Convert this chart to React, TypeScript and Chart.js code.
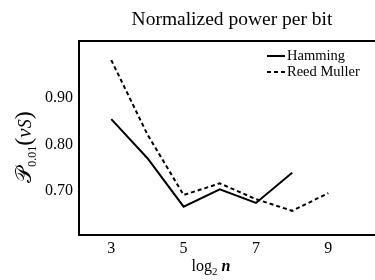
import React, { useEffect, useRef } from "react";
import { Chart, registerables } from "chart.js";

Chart.register(...registerables);

const hammingX = [3, 4, 5, 6, 7, 8];
const hammingY = [0.855, 0.771, 0.667, 0.704, 0.675, 0.74];
const reedMullerX = [3, 4, 5, 6, 7, 8, 9];
const reedMullerY = [0.982, 0.822, 0.692, 0.717, 0.683, 0.658, 0.696];
const xTicks = [3, 5, 7, 9];
const yTicks = [0.7, 0.8, 0.9];
const seriesNames = ["Hamming", "Reed Muller"];
const titleText = "Normalized power per bit";

const SERIF = '"Liberation Serif", "DejaVu Serif", serif';

const textPlugin = {
  id: "customTexts",
  afterDraw(chart: any) {
    const ctx: CanvasRenderingContext2D = chart.ctx;
    const a = chart.chartArea;
    ctx.save();
    ctx.fillStyle = "#000";
    ctx.textBaseline = "alphabetic";

    // Title
    ctx.font = `19.5px ${SERIF}`;
    ctx.textAlign = "center";
    ctx.fillText(titleText, (a.left + a.right) / 2 + 5, 25);

    // Legend
    ctx.textAlign = "left";
    ctx.font = `14.5px ${SERIF}`;
    const lx = a.left + 188;
    const rows = [a.top + 19, a.top + 35];
    chart.data.datasets.forEach((ds: any, i: number) => {
      const y = rows[i];
      ctx.save();
      ctx.strokeStyle = ds.borderColor;
      ctx.lineWidth = ds.borderWidth;
      ctx.setLineDash(ds.borderDash || []);
      ctx.beginPath();
      ctx.moveTo(lx, y - 4);
      ctx.lineTo(lx + 18, y - 4);
      ctx.stroke();
      ctx.restore();
      ctx.fillText(seriesNames[i], lx + 20, y);
    });

    // X axis title: log_2 n
    const xParts = [
      { t: "log", f: `16px ${SERIF}`, dy: 0 },
      { t: "2", f: `11px ${SERIF}`, dy: 4 },
      { t: " ", f: `16px ${SERIF}`, dy: 0 },
      { t: "n", f: `italic bold 16px ${SERIF}`, dy: 0 },
    ];
    let tw = 0;
    xParts.forEach((p) => {
      ctx.font = p.f;
      tw += ctx.measureText(p.t).width;
    });
    let cx = 211 - tw / 2;
    const by = 271;
    xParts.forEach((p) => {
      ctx.font = p.f;
      ctx.fillText(p.t, cx, by + p.dy);
      cx += ctx.measureText(p.t).width;
    });

    // Y axis title: P_{0.01}(v_S)
    const yParts = [
      { t: "\u{1D4AB}", f: `22px ${SERIF}`, dy: 0 },
      { t: "0.01", f: `12px ${SERIF}`, dy: 5 },
      { t: "(", f: `24px ${SERIF}`, dy: 0 },
      { t: "v", f: `italic 21px ${SERIF}`, dy: 0 },
      { t: "S", f: `italic 18px ${SERIF}`, dy: 0 },
      { t: ")", f: `24px ${SERIF}`, dy: 0 },
    ];
    let yw = 0;
    yParts.forEach((p) => {
      ctx.font = p.f;
      yw += ctx.measureText(p.t).width;
    });
    ctx.translate(31, 147);
    ctx.rotate(-Math.PI / 2);
    let px = -yw / 2;
    yParts.forEach((p) => {
      ctx.font = p.f;
      ctx.fillText(p.t, px, p.dy);
      px += ctx.measureText(p.t).width;
    });
    ctx.restore();
  },
};

export default function App() {
  const ref = useRef<HTMLCanvasElement | null>(null);

  useEffect(() => {
    document.body.style.margin = "0";
    const canvas = ref.current;
    if (!canvas) return;
    const chart = new Chart(canvas, {
      type: "line",
      data: {
        datasets: [
          {
            label: seriesNames[0],
            data: hammingX.map((x, i) => ({ x, y: hammingY[i] })),
            borderColor: "#000",
            borderWidth: 2,
            pointRadius: 0,
            tension: 0,
            fill: false,
          },
          {
            label: seriesNames[1],
            data: reedMullerX.map((x, i) => ({ x, y: reedMullerY[i] })),
            borderColor: "#000",
            borderWidth: 2,
            borderDash: [4, 3],
            pointRadius: 0,
            tension: 0,
            fill: false,
          },
        ],
      },
      options: {
        animation: false,
        responsive: false,
        layout: { padding: { top: 41, left: 0, right: 0, bottom: 0 } },
        plugins: {
          legend: { display: false },
          title: { display: false },
          tooltip: { enabled: false },
        },
        scales: {
          x: {
            type: "linear",
            min: 2.108,
            max: 10.29,
            grid: { display: false, drawTicks: false },
            border: { display: true, color: "#000", width: 2 },
            ticks: {
              color: "#000",
              font: { family: SERIF, size: 16 },
              padding: 4,
              maxRotation: 0,
            },
            afterBuildTicks: (scale: any) => {
              scale.ticks = xTicks.map((v) => ({ value: v }));
            },
            afterFit: (scale: any) => {
              scale.height = 45;
            },
          },
          x2: {
            type: "linear",
            position: "top",
            min: 0,
            max: 1,
            grid: { display: false, drawTicks: false },
            border: { display: true, color: "#000", width: 2 },
            ticks: { display: false },
            afterFit: (scale: any) => {
              scale.height = 0;
            },
          },
          y: {
            type: "linear",
            min: 0.606,
            max: 1.023,
            grid: { display: false, drawTicks: false },
            border: { display: true, color: "#000", width: 2 },
            ticks: {
              color: "#000",
              font: { family: SERIF, size: 16 },
              padding: 6,
              callback: (v: any) => Number(v).toFixed(2),
            },
            afterBuildTicks: (scale: any) => {
              scale.ticks = yTicks.map((v) => ({ value: v }));
            },
            afterFit: (scale: any) => {
              scale.width = 79;
            },
          },
        },
      },
      plugins: [textPlugin],
    });
    return () => chart.destroy();
  }, []);

  return (
    <div style={{ width: 375, height: 280 }}>
      <canvas ref={ref} width={375} height={280} style={{ display: "block" }} />
    </div>
  );
}
